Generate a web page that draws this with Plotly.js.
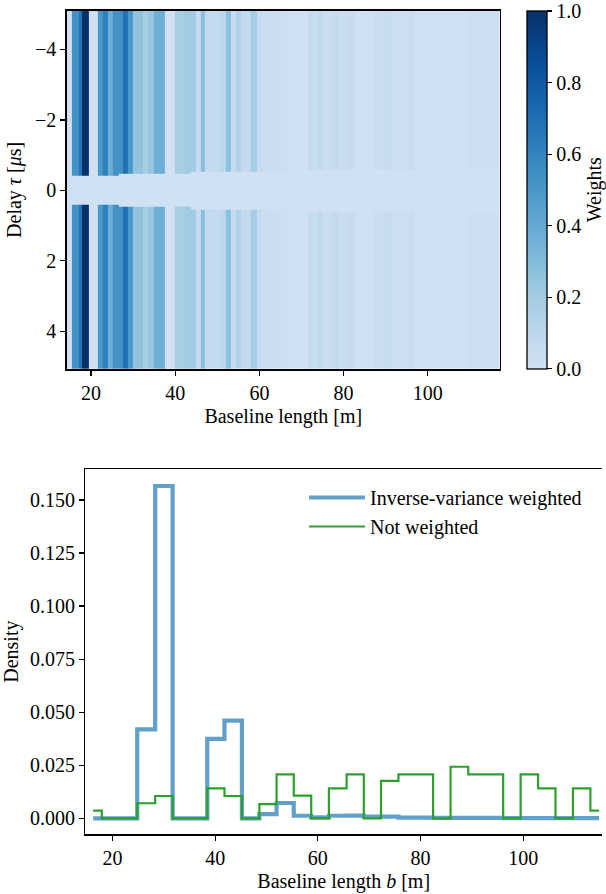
<!DOCTYPE html>
<html>
<head>
<meta charset="utf-8">
<script src="https://cdn.plot.ly/plotly-3.0.1.min.js"></script>
<style>
html,body{margin:0;padding:0;background:#fff;}
#chart{width:606px;height:894px;}
</style>
</head>
<body>
<div id="chart"></div>
<script>
// ---------- Top panel: weights heatmap ----------
// stripe edges along baseline length [m]
const stripeEdges = [14.24, 15.35, 17.0, 17.71, 19.4, 21.72, 22.90, 24.09, 25.27, 26.5, 27.63, 28.81, 29.99, 32.35, 33.53, 34.95, 37.47, 39.83, 42.20, 43.6, 44.86, 45.97, 47.15, 50.70, 52.02, 53.29, 54.38, 55.66, 58.02, 59.34, 60.52, 64.06, 66.42, 71.55, 72.73, 73.91, 75.09, 77.45, 78.8, 81.0, 82.57, 87.13, 89.66, 91.15, 95.56, 96.88, 109.3, 117.1];
// weight of each stripe
const stripeWeights = [0, 0.53, 0.66, 1.0, 0, 0.5, 0.62, 0.375, 0.53, 0.53, 0.69, 0.5, 0.26, 0.18, 0.24, 0.375, 0, 0.18, 0.21, 0.21, 0.06, 0.28, 0.07, 0.10, 0.28, 0.06, 0.15, 0.07, 0.19, 0.06, 0.035, 0.02, 0, 0.07, 0.04, 0.09, 0.03, 0.07, 0.03, 0.05, 0, 0.03, 0.05, 0.02, 0.05, 0, 0.02];
// half-width of the excluded delay band around zero for each stripe [µs]
const stripeHorizon = [0.41, 0.41, 0.41, 0.41, 0.41, 0.41, 0.41, 0.41, 0.41, 0.47, 0.47, 0.47, 0.47, 0.47, 0.47, 0.47, 0.47, 0.47, 0.47, 0.535, 0.535, 0.535, 0.535, 0.535, 0.535, 0.535, 0.535, 0.535, 0.535, 0.535, 0.535, 0.535, 0.6, 0.6, 0.6, 0.6, 0.6, 0.6, 0.6, 0.6, 0.6, 0.6, 0.6, 0.6, 0.6, 0.6, 0.66];
// delay cell edges [µs]
const delayEdges = [-5.1, -0.66, -0.6, -0.535, -0.47, -0.41, 0.41, 0.47, 0.535, 0.6, 0.66, 5.07];

// ---------- Bottom panel: baseline density histograms ----------
const binCenters = [16.2, 19.6, 23.0, 26.6, 30.0, 33.4, 36.8, 40.1, 43.5, 46.9, 50.3, 53.6, 57.0, 60.4, 63.9, 67.3, 70.6, 74.0, 77.4, 80.8, 84.1, 87.6, 91.0, 94.4, 97.8, 101.2, 104.6, 108.0, 111.4, 114.8];
const densityWeighted = [0, 0, 0, 0.0419, 0.1566, 0, 0, 0.0374, 0.046, 0, 0.002, 0.0072, 0.0012, 0.0004, 0.0012, 0.0013, 0.0008, 0.0008, 0.0003, 0.0003, 0.0002, 0.0002, 0.0002, 0.0002, 0.0001, 0.0001, 0.0001, 0.0001, 0.0001, 0.0001];
const densityUnweighted = [0.0036, 0, 0, 0.0071, 0.0105, 0, 0, 0.0141, 0.0105, 0, 0.0067, 0.0207, 0.0107, 0, 0.0141, 0.0207, 0, 0.0176, 0.0207, 0.0207, 0, 0.0243, 0.0207, 0.0207, 0, 0.0207, 0.0141, 0, 0.0141, 0.0036];

const topXTicks = [20, 40, 60, 80, 100];
const topYTicks = [-4, -2, 0, 2, 4];
const cbTicks = [0, 0.2, 0.4, 0.6, 0.8, 1.0];
const botXTicks = [20, 40, 60, 80, 100];
const botYTicks = [0, 0.025, 0.05, 0.075, 0.1, 0.125, 0.15];

// build z table
const z = [];
for (let i = 0; i < delayEdges.length - 1; i++) {
  const yc = Math.abs((delayEdges[i] + delayEdges[i + 1]) / 2);
  const row = [];
  for (let j = 0; j < stripeWeights.length; j++) {
    row.push(yc > stripeHorizon[j] ? stripeWeights[j] : 0);
  }
  z.push(row);
}

const FONT = 'Liberation Serif, Times New Roman, DejaVu Serif, serif';
const FS = 20;
const W = 606, H = 894;

const blues = [
  [0, '#cfe1f2'], [0.0625, '#c6dbef'], [0.21875, '#9ecae1'], [0.375, '#6baed6'],
  [0.53125, '#4292c6'], [0.6875, '#2171b5'], [0.84375, '#08519c'], [1, '#08306b']
];

const traces = [
  {
    type: 'heatmap', x: stripeEdges, y: delayEdges, z: z,
    xaxis: 'x', yaxis: 'y', zmin: 0, zmax: 1.001, colorscale: blues,
    hoverinfo: 'skip', showlegend: false,
    colorbar: {
      x: 530 / W, xanchor: 'left', xref: 'paper',
      y: 1 - 10.7 / H, yanchor: 'top', yref: 'paper',
      len: 358.3 / H, lenmode: 'fraction',
      thickness: 20, thicknessmode: 'pixels',
      xpad: 0, ypad: 0,
      outlinewidth: 1.3, outlinecolor: '#000',
      ticks: 'outside', ticklen: 5, tickwidth: 1.2, tickcolor: '#000',
      tickvals: cbTicks, tickformat: '.1f',
      tickfont: {family: FONT, size: FS, color: '#000'},
      title: {text: 'Weights', side: 'right', font: {family: FONT, size: FS, color: '#000'}}
    }
  },
  {
    type: 'scatter', mode: 'lines', x: binCenters, y: densityWeighted,
    xaxis: 'x2', yaxis: 'y2', name: 'Inverse-variance weighted',
    line: {shape: 'hvh', color: 'rgba(31,119,180,0.7)', width: 4.2},
    hoverinfo: 'skip'
  },
  {
    type: 'scatter', mode: 'lines', x: binCenters, y: densityUnweighted,
    xaxis: 'x2', yaxis: 'y2', name: 'Not weighted',
    line: {shape: 'hvh', color: '#2ca02c', width: 2.2},
    hoverinfo: 'skip'
  }
];

const axBase = {
  showgrid: false, zeroline: false, showline: true, linecolor: '#000', linewidth: 1.5,
  ticks: 'outside', ticklen: 5, tickwidth: 1.2, tickcolor: '#000',
  tickfont: {family: FONT, size: FS, color: '#000'}
};

const layout = {
  width: W, height: H,
  margin: {l: 0, r: 0, t: 0, b: 0, pad: 0},
  paper_bgcolor: '#fff', plot_bgcolor: '#fff',
  font: {family: FONT, size: FS, color: '#000'},
  showlegend: true,
  legend: {
    x: 0.505, y: 1 - 478 / H, xanchor: 'left', yanchor: 'top',
    bgcolor: 'rgba(0,0,0,0)', borderwidth: 0,
    font: {family: FONT, size: FS, color: '#000'},
    tracegroupgap: 0, itemwidth: 56
  },
  xaxis: Object.assign({}, axBase, {
    domain: [67.3 / W, 503 / W], anchor: 'y', range: [14.24, 117.1],
    tickvals: topXTicks, mirror: true,
    title: {text: 'Baseline length [m]', font: {family: FONT, size: FS, color: '#000'}, standoff: 6}
  }),
  yaxis: Object.assign({}, axBase, {
    domain: [1 - 369 / H, 1 - 10.7 / H], anchor: 'x', range: [5.07, -5.1],
    tickvals: topYTicks, mirror: true,
    title: {text: 'Delay <i>τ</i> [<i>μ</i>s]', font: {family: FONT, size: FS, color: '#000'}, standoff: 8}
  }),
  xaxis2: Object.assign({}, axBase, {
    domain: [86 / W, 1], anchor: 'y2', range: [14.71, 115.36],
    tickvals: botXTicks, mirror: true,
    title: {text: 'Baseline length <i>b</i> [m]', font: {family: FONT, size: FS, color: '#000'}, standoff: 6}
  }),
  yaxis2: Object.assign({}, axBase, {
    domain: [1 - 834.3 / H, 1 - 469 / H], anchor: 'x2', range: [-0.00754, 0.1646],
    tickvals: botYTicks, tickformat: '.3f', mirror: false,
    title: {text: 'Density', font: {family: FONT, size: FS, color: '#000'}, standoff: 8}
  })
};

Plotly.newPlot('chart', traces, layout, {staticPlot: true, displayModeBar: false});
</script>
</body>
</html>
